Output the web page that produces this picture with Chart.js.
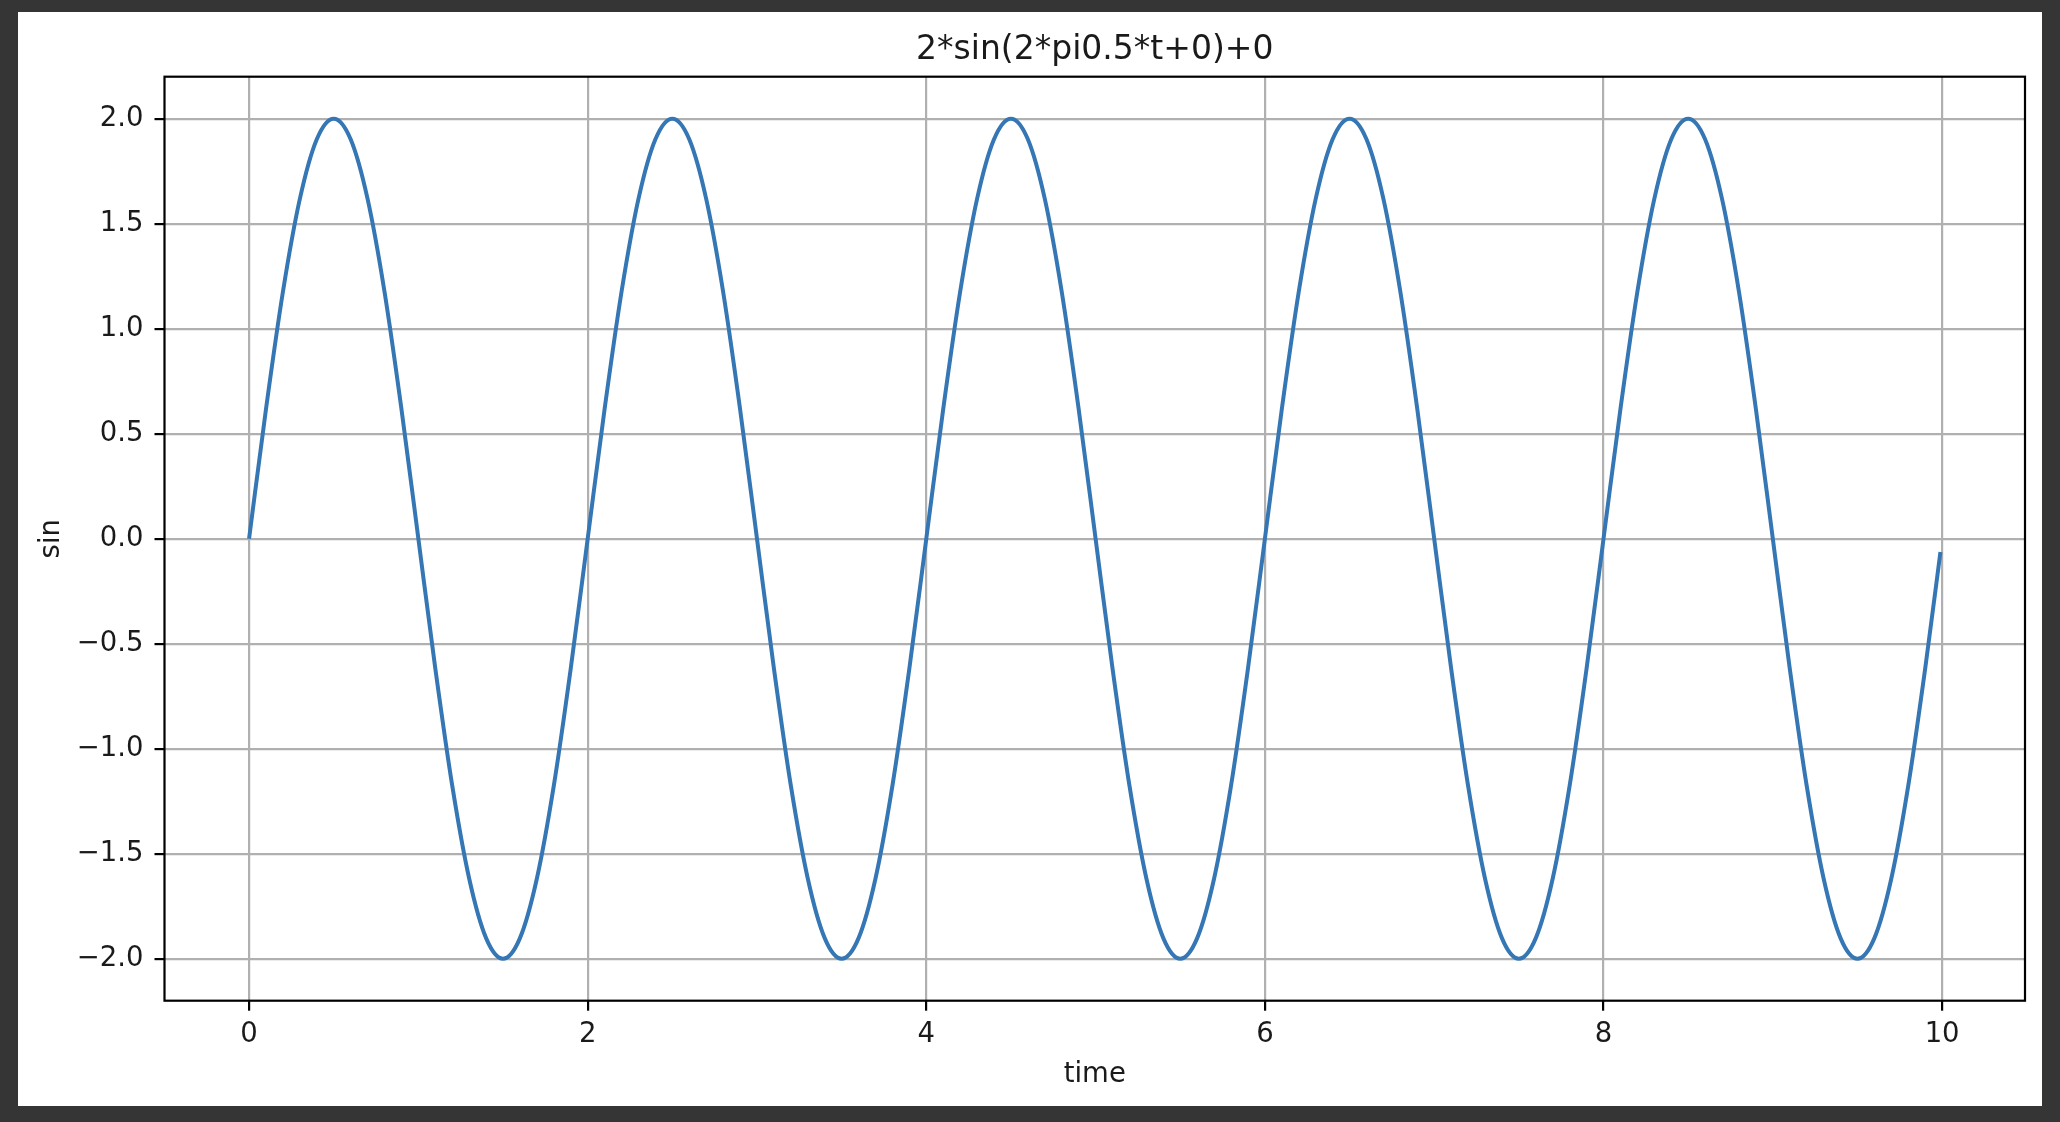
<!DOCTYPE html>
<html>
<head>
<meta charset="utf-8">
<script src="https://cdn.jsdelivr.net/npm/chart.js@4.4.0/dist/chart.umd.min.js"></script>
<style>
  html, body { margin: 0; padding: 0; background: #353535; }
  canvas { display: block; }
</style>
</head>
<body>
<canvas id="sineChart" width="2060" height="1122"></canvas>
<script>
// values
const titleText = "2*sin(2*pi0.5*t+0)+0";
const xLabel = "time";
const yLabel = "sin";

const timeValues = [
  0.0, 0.1, 0.2, 0.3, 0.4, 0.5, 0.6, 0.7, 0.8, 0.9,
  1.0, 1.1, 1.2, 1.3, 1.4, 1.5, 1.6, 1.7, 1.8, 1.9,
  2.0, 2.1, 2.2, 2.3, 2.4, 2.5, 2.6, 2.7, 2.8, 2.9,
  3.0, 3.1, 3.2, 3.3, 3.4, 3.5, 3.6, 3.7, 3.8, 3.9,
  4.0, 4.1, 4.2, 4.3, 4.4, 4.5, 4.6, 4.7, 4.8, 4.9,
  5.0, 5.1, 5.2, 5.3, 5.4, 5.5, 5.6, 5.7, 5.8, 5.9,
  6.0, 6.1, 6.2, 6.3, 6.4, 6.5, 6.6, 6.7, 6.8, 6.9,
  7.0, 7.1, 7.2, 7.3, 7.4, 7.5, 7.6, 7.7, 7.8, 7.9,
  8.0, 8.1, 8.2, 8.3, 8.4, 8.5, 8.6, 8.7, 8.8, 8.9,
  9.0, 9.1, 9.2, 9.3, 9.4, 9.5, 9.6, 9.7, 9.8, 9.9,
  9.99
];

const sinValues = [
  0.000, 0.618, 1.176, 1.618, 1.902, 2.000, 1.902, 1.618, 1.176, 0.618,
  0.000, -0.618, -1.176, -1.618, -1.902, -2.000, -1.902, -1.618, -1.176, -0.618,
  0.000, 0.618, 1.176, 1.618, 1.902, 2.000, 1.902, 1.618, 1.176, 0.618,
  0.000, -0.618, -1.176, -1.618, -1.902, -2.000, -1.902, -1.618, -1.176, -0.618,
  0.000, 0.618, 1.176, 1.618, 1.902, 2.000, 1.902, 1.618, 1.176, 0.618,
  0.000, -0.618, -1.176, -1.618, -1.902, -2.000, -1.902, -1.618, -1.176, -0.618,
  0.000, 0.618, 1.176, 1.618, 1.902, 2.000, 1.902, 1.618, 1.176, 0.618,
  0.000, -0.618, -1.176, -1.618, -1.902, -2.000, -1.902, -1.618, -1.176, -0.618,
  0.000, 0.618, 1.176, 1.618, 1.902, 2.000, 1.902, 1.618, 1.176, 0.618,
  0.000, -0.618, -1.176, -1.618, -1.902, -2.000, -1.902, -1.618, -1.176, -0.618,
  -0.063
];

const xTicks = [0, 2, 4, 6, 8, 10];
const yTicks = [-2.0, -1.5, -1.0, -0.5, 0.0, 0.5, 1.0, 1.5, 2.0];

const points = timeValues.map((t, i) => ({ x: t, y: sinValues[i] }));

const fontFamily = "'DejaVu Sans', sans-serif";
const textColor = '#1a1a1a';
const gridColor = '#b0b0b0';

// dark frame, white figure, and the black box round the axes
const framePlugin = {
  id: 'frame',
  beforeDraw(chart) {
    const ctx = chart.ctx;
    ctx.save();
    ctx.fillStyle = '#353535';
    ctx.fillRect(0, 0, chart.width, chart.height);
    ctx.fillStyle = '#ffffff';
    ctx.fillRect(18, 12, 2024, 1094);
    ctx.restore();
  },
  afterDraw(chart) {
    const a = chart.chartArea;
    const ctx = chart.ctx;
    ctx.save();
    ctx.strokeStyle = '#000000';
    ctx.lineWidth = 2.2;
    ctx.strokeRect(a.left, a.top, a.right - a.left, a.bottom - a.top);
    ctx.restore();
  }
};

const ctx = document.getElementById('sineChart').getContext('2d');
const sineChart = new Chart(ctx, {
  type: 'line',
  data: {
    datasets: [{
      label: yLabel,
      data: points,
      borderColor: '#3576b4',
      borderWidth: 4,
      pointRadius: 0,
      fill: false,
      cubicInterpolationMode: 'monotone'
    }]
  },
  options: {
    responsive: false,
    animation: false,
    layout: { padding: { left: 0, top: 0, right: 35, bottom: 0 } },
    plugins: {
      legend: { display: false },
      tooltip: { enabled: false },
      title: {
        display: true,
        text: titleText,
        fullSize: false,
        color: textColor,
        font: { family: fontFamily, size: 33, weight: 'normal' },
        padding: { top: 31, bottom: 6.1 }
      }
    },
    scales: {
      x: {
        type: 'linear',
        min: -0.4995,
        max: 10.4895,
        afterFit: (scale) => { scale.height = 121.3; },
        afterBuildTicks: (scale) => { scale.ticks = xTicks.map(v => ({ value: v })); },
        border: { display: false },
        grid: {
          color: gridColor,
          lineWidth: 2.2,
          tickLength: 10,
          tickColor: '#000000',
          tickWidth: 2.2
        },
        ticks: {
          color: textColor,
          padding: 8,
          maxRotation: 0,
          font: { family: fontFamily, size: 27.5 },
          callback: (v) => String(v)
        },
        title: {
          display: true,
          text: xLabel,
          color: textColor,
          font: { family: fontFamily, size: 27.5 },
          padding: { top: 0, bottom: 31 }
        }
      },
      y: {
        type: 'linear',
        min: -2.2,
        max: 2.2,
        afterFit: (scale) => { scale.width = 164.5; },
        afterBuildTicks: (scale) => { scale.ticks = yTicks.map(v => ({ value: v })); },
        border: { display: false },
        grid: {
          color: gridColor,
          lineWidth: 2.2,
          tickLength: 10,
          tickColor: '#000000',
          tickWidth: 2.2
        },
        ticks: {
          color: textColor,
          padding: 11,
          font: { family: fontFamily, size: 27.5 },
          callback: (v) => Number(v).toFixed(1).replace('-', '\u2212')
        },
        title: {
          display: true,
          text: yLabel,
          color: textColor,
          font: { family: fontFamily, size: 27.5 },
          padding: { top: 35.5, bottom: 0 }
        }
      }
    }
  },
  plugins: [framePlugin]
});
</script>
</body>
</html>
